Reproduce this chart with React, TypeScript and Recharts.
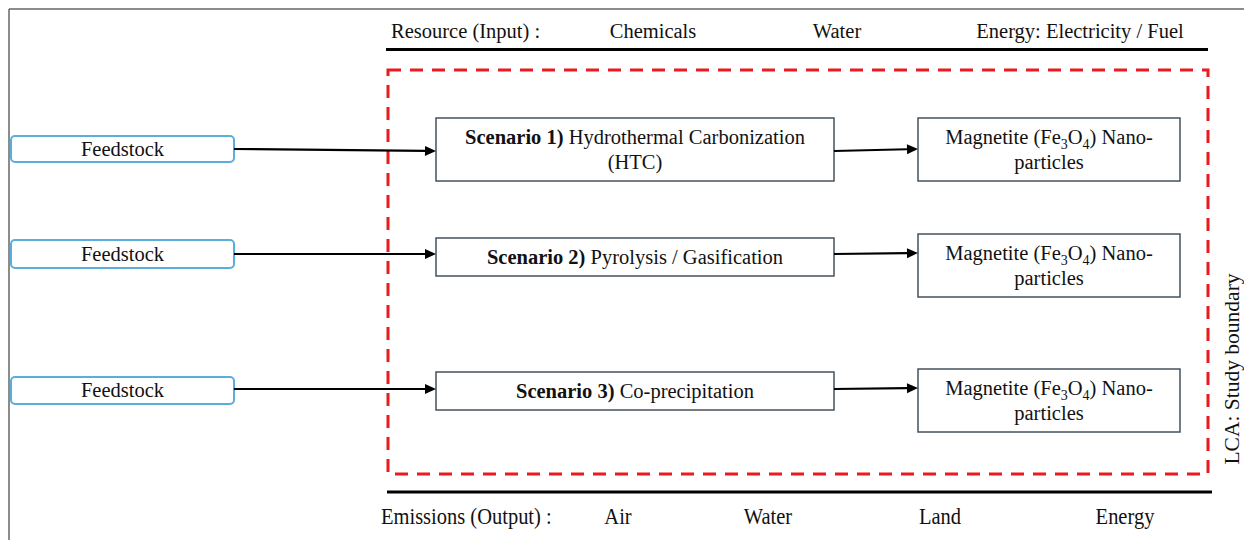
import { ComposedChart, XAxis, YAxis, ReferenceArea, ReferenceLine, ReferenceDot } from 'recharts';

// diagram content
const INPUT_TITLE = 'Resource (Input) :';
const INPUTS = ['Chemicals', 'Water', 'Energy: Electricity / Fuel'];
const OUTPUT_TITLE = 'Emissions (Output) :';
const OUTPUTS = ['Air', 'Water', 'Land', 'Energy'];
const FEEDSTOCKS = ['Feedstock', 'Feedstock', 'Feedstock'];
const SCENARIO_TAGS = ['Scenario 1)', 'Scenario 2)', 'Scenario 3)'];
const SCENARIO_NAMES = [['Hydrothermal Carbonization', '(HTC)'], ['Pyrolysis / Gasification'], ['Co-precipitation']];
const PRODUCTS = ['Magnetite', 'Magnetite', 'Magnetite'];
const BOUNDARY_LABEL = 'LCA: Study boundary';

// layout (diagram units = px)
const W = 1244;
const H = 540;
const FEED_X = [11, 234];
const SCEN_X = [436, 834];
const PROD_X = [918, 1180];
const FEED_Y = [[136, 162], [240, 268], [377, 404]];
const SCEN_Y = [[118, 181], [238, 276], [372, 410]];
const PROD_Y = [[118, 181], [234, 297], [369, 432]];
const ARROW1_Y = [[149, 151], [254, 254], [389, 389]];
const ARROW2_Y = [[151, 149], [254, 253], [389, 388]];
const INPUT_X = [653, 837, 1080];
const OUTPUT_X = [618, 768, 940, 1125];

const FONT = '"Liberation Serif", "Times New Roman", serif';
const FS = 20.5;
const RED = '#ea1a1f';
const BOX = '#46525c';
const BLUE = '#5aaedc';

const Arrow = (p: any) => {
  const { x1, y1, x2, y2 } = p;
  const a = Math.atan2(y2 - y1, x2 - x1);
  const L = 11;
  const hw = 5;
  const bx = x2 - L * Math.cos(a);
  const by = y2 - L * Math.sin(a);
  const px = -Math.sin(a) * hw;
  const py = Math.cos(a) * hw;
  return (
    <g>
      <line x1={x1} y1={y1} x2={bx} y2={by} stroke="#000" strokeWidth={2.2} />
      <polygon points={`${x2},${y2} ${bx + px},${by + py} ${bx - px},${by - py}`} fill="#000" />
    </g>
  );
};

const Plain = (color: string, width: number) => (p: any) => (
  <line x1={p.x1} y1={p.y1} x2={p.x2} y2={p.y2} stroke={color} strokeWidth={width} />
);

const FeedBox = (label: string) => (p: any) => (
  <g>
    <rect x={p.x} y={p.y} width={p.width} height={p.height} rx={4} fill="#fff" stroke={BLUE} strokeWidth={2} />
    <text x={p.x + p.width / 2} y={p.y + p.height / 2} dy="0.33em" textAnchor="middle" fontFamily={FONT} fontSize={FS} fill="#111">
      {label}
    </text>
  </g>
);

const ScenBox = (tag: string, lines: string[]) => (p: any) => {
  const cx = p.x + p.width / 2;
  const cy = p.y + p.height / 2;
  const lh = 25;
  const y0 = cy - ((lines.length - 1) * lh) / 2;
  return (
    <g>
      <rect x={p.x} y={p.y} width={p.width} height={p.height} fill="#fff" stroke={BOX} strokeWidth={1.5} />
      {lines.map((ln, i) => (
        <text key={i} x={cx} y={y0 + i * lh} dy="0.33em" textAnchor="middle" fontFamily={FONT} fontSize={FS} fill="#111">
          {i === 0 ? (
            <>
              <tspan fontWeight="bold">{tag}</tspan> {ln}
            </>
          ) : (
            ln
          )}
        </text>
      ))}
    </g>
  );
};

const ProdBox = (name: string) => (p: any) => {
  const cx = p.x + p.width / 2;
  const cy = p.y + p.height / 2;
  return (
    <g>
      <rect x={p.x} y={p.y} width={p.width} height={p.height} fill="#fff" stroke={BOX} strokeWidth={1.5} />
      <text x={cx} y={cy - 12.5} dy="0.33em" textAnchor="middle" fontFamily={FONT} fontSize={FS} fill="#111">
        <tspan>{name} (Fe</tspan>
        <tspan fontSize={14} dy={5}>3</tspan>
        <tspan dy={-5}>O</tspan>
        <tspan fontSize={14} dy={5}>4</tspan>
        <tspan dy={-5}>) Nano-</tspan>
      </text>
      <text x={cx} y={cy + 12.5} dy="0.33em" textAnchor="middle" fontFamily={FONT} fontSize={FS} fill="#111">
        particles
      </text>
    </g>
  );
};

const Label = (text: string, anchor: 'start' | 'middle' | 'end' = 'middle', rotate = 0, stretch = 1, size = FS) => (p: any) => (
  <text
    x={0}
    y={0}
    transform={`translate(${p.cx},${p.cy}) rotate(${rotate}) scale(1,${stretch})`}
    textAnchor={anchor}
    fontFamily={FONT}
    fontSize={size}
    fill="#111"
  >
    {text}
  </text>
);

const DashedBoundary = (p: any) => (
  <rect x={p.x} y={p.y} width={p.width} height={p.height} fill="none" stroke={RED} strokeWidth={3} strokeDasharray="13 9" />
);

export default function App() {
  return (
    <div style={{ position: 'absolute', left: 0, top: 0, width: W, height: H, background: '#fff' }}>
      <ComposedChart width={W} height={H} data={[]} margin={{ top: 0, right: 0, bottom: 0, left: 0 }}>
        <XAxis type="number" dataKey="x" domain={[0, W]} hide allowDataOverflow />
        <YAxis type="number" dataKey="y" domain={[0, H]} reversed hide allowDataOverflow />

        {/* outer frame */}
        <ReferenceLine segment={[{ x: 9, y: 9 }, { x: W, y: 9 }]} shape={Plain('#666', 1.5)} ifOverflow="visible" />
        <ReferenceLine segment={[{ x: 9, y: 9 }, { x: 9, y: H }]} shape={Plain('#666', 1.5)} ifOverflow="visible" />

        {/* input / output rails */}
        <ReferenceLine segment={[{ x: 386, y: 49.5 }, { x: 1208, y: 49.5 }]} shape={Plain('#000', 3)} />
        <ReferenceLine segment={[{ x: 387, y: 492 }, { x: 1212, y: 492 }]} shape={Plain('#000', 3)} />

        {/* study boundary */}
        <ReferenceArea x1={388} x2={1208} y1={70} y2={474} shape={DashedBoundary} />

        {/* arrows */}
        {FEEDSTOCKS.map((_, i) => (
          <ReferenceLine
            key={`a1-${i}`}
            segment={[{ x: FEED_X[1], y: ARROW1_Y[i][0] }, { x: SCEN_X[0], y: ARROW1_Y[i][1] }]}
            shape={Arrow}
          />
        ))}
        {FEEDSTOCKS.map((_, i) => (
          <ReferenceLine
            key={`a2-${i}`}
            segment={[{ x: SCEN_X[1], y: ARROW2_Y[i][0] }, { x: PROD_X[0], y: ARROW2_Y[i][1] }]}
            shape={Arrow}
          />
        ))}

        {/* boxes */}
        {FEEDSTOCKS.map((f, i) => (
          <ReferenceArea key={`f-${i}`} x1={FEED_X[0]} x2={FEED_X[1]} y1={FEED_Y[i][0]} y2={FEED_Y[i][1]} shape={FeedBox(f)} />
        ))}
        {SCENARIO_TAGS.map((t, i) => (
          <ReferenceArea
            key={`s-${i}`}
            x1={SCEN_X[0]}
            x2={SCEN_X[1]}
            y1={SCEN_Y[i][0]}
            y2={SCEN_Y[i][1]}
            shape={ScenBox(t, SCENARIO_NAMES[i])}
          />
        ))}
        {PRODUCTS.map((pr, i) => (
          <ReferenceArea key={`p-${i}`} x1={PROD_X[0]} x2={PROD_X[1]} y1={PROD_Y[i][0]} y2={PROD_Y[i][1]} shape={ProdBox(pr)} />
        ))}

        {/* texts */}
        <ReferenceDot x={391} y={38} shape={Label(INPUT_TITLE, 'start')} />
        {INPUTS.map((t, i) => (
          <ReferenceDot key={`in-${i}`} x={INPUT_X[i]} y={38} shape={Label(t)} />
        ))}
        <ReferenceDot x={381} y={524} shape={Label(OUTPUT_TITLE, 'start', 0, 1.1)} />
        {OUTPUTS.map((t, i) => (
          <ReferenceDot key={`out-${i}`} x={OUTPUT_X[i]} y={524} shape={Label(t, 'middle', 0, 1.1)} />
        ))}
        <ReferenceDot x={1239} y={369} shape={Label(BOUNDARY_LABEL, 'middle', -90, 1, 21.5)} />
      </ComposedChart>
    </div>
  );
}
